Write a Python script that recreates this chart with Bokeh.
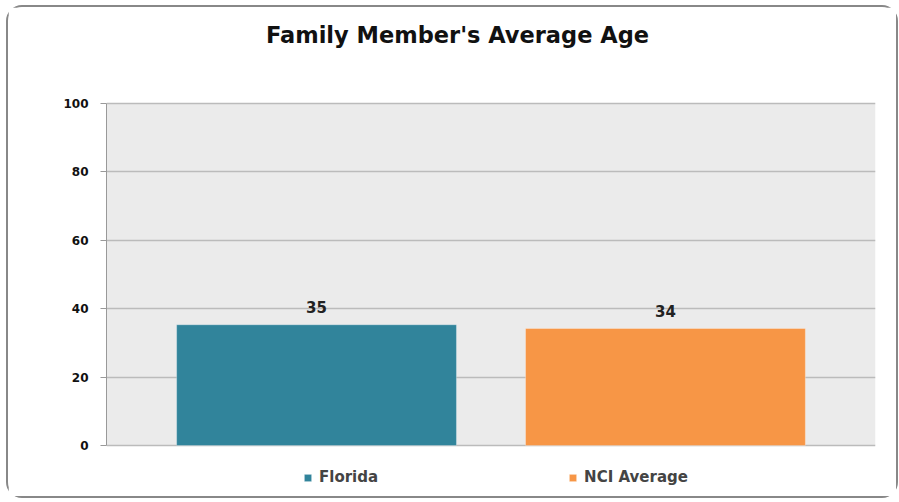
from bokeh.plotting import figure
from bokeh.models import ColumnDataSource, Label, Legend, LegendItem, BoxAnnotation, FixedTicker, Range1d
from bokeh.core.properties import value
from bokeh.embed import file_html
from bokeh.resources import INLINE

title = "Family Member's Average Age"
categories = ["Florida", "NCI Average"]
values = [35.3, 34.2]
value_labels = ["35", "34"]
colors = ["#31849B", "#F79646"]
y_ticks = [0, 20, 40, 60, 80, 100]

FONT = "DejaVu Sans"

xs = [i + 1 for i in range(len(categories))]
src = ColumnDataSource(dict(x=xs, top=values, cat=categories, color=colors,
                            lab=value_labels, ly=[v + 3.5 for v in values]))

p = figure(width=892, height=493, output_backend="svg", toolbar_location=None,
           x_range=Range1d(0.398, 2.602), y_range=Range1d(-13.16, 126.0),
           min_border_left=98, min_border_right=25, min_border_top=7, min_border_bottom=10)
p.background_fill_color = "white"
p.border_fill_color = "white"
p.outline_line_color = None
p.styles = {"border": "2px solid #888888", "border-radius": "16px", "box-sizing": "border-box",
            "margin-left": "6px", "margin-top": "5px"}

# grey plot area (0..100)
p.add_layout(BoxAnnotation(bottom=0, top=100, fill_color="#EBEBEB", fill_alpha=1,
                           line_color=None, level="image"))

r = p.vbar(x="x", top="top", width=0.802, bottom=0, color="color", source=src,
           line_color="#ffffff", line_alpha=0.3)

p.text(x="x", y="ly", text="lab", source=src, text_align="center", text_baseline="bottom",
       text_font=value(FONT), text_font_size="15px", text_font_style="bold",
       text_color="#222222")

p.xaxis.visible = False
p.xgrid.visible = False
p.ygrid.grid_line_color = "#BBBBBB"
p.ygrid.grid_line_width = 1.5
p.ygrid.ticker = FixedTicker(ticks=y_ticks)
p.yaxis.ticker = FixedTicker(ticks=y_ticks)
p.yaxis.bounds = (0, 100)
p.yaxis.axis_line_color = "#999999"
p.yaxis.major_tick_line_color = "#999999"
p.yaxis.major_tick_out = 6
p.yaxis.major_tick_in = 0
p.yaxis.minor_tick_line_color = None
p.yaxis.major_label_text_font = FONT
p.yaxis.major_label_text_font_style = "bold"
p.yaxis.major_label_text_font_size = "12px"
p.yaxis.major_label_text_color = "#111111"
p.yaxis.major_label_standoff = 12

p.add_layout(Label(x=351, y=456, x_units="screen", y_units="screen", text=title,
                   text_align="center", text_baseline="middle", text_font=FONT,
                   text_font_style="bold", text_font_size="22.5px", text_color="#111111"))

legend = Legend(items=[LegendItem(label=c, renderers=[r], index=i) for i, c in enumerate(categories)],
                location=(197, 4), orientation="horizontal", glyph_width=9, glyph_height=9,
                label_standoff=7, spacing=190, padding=0, margin=0,
                border_line_color=None, background_fill_alpha=0,
                label_text_font=FONT, label_text_font_style="bold", label_text_font_size="15px")
p.add_layout(legend, "center")

open("out.html", "w").write(file_html(p, INLINE))
